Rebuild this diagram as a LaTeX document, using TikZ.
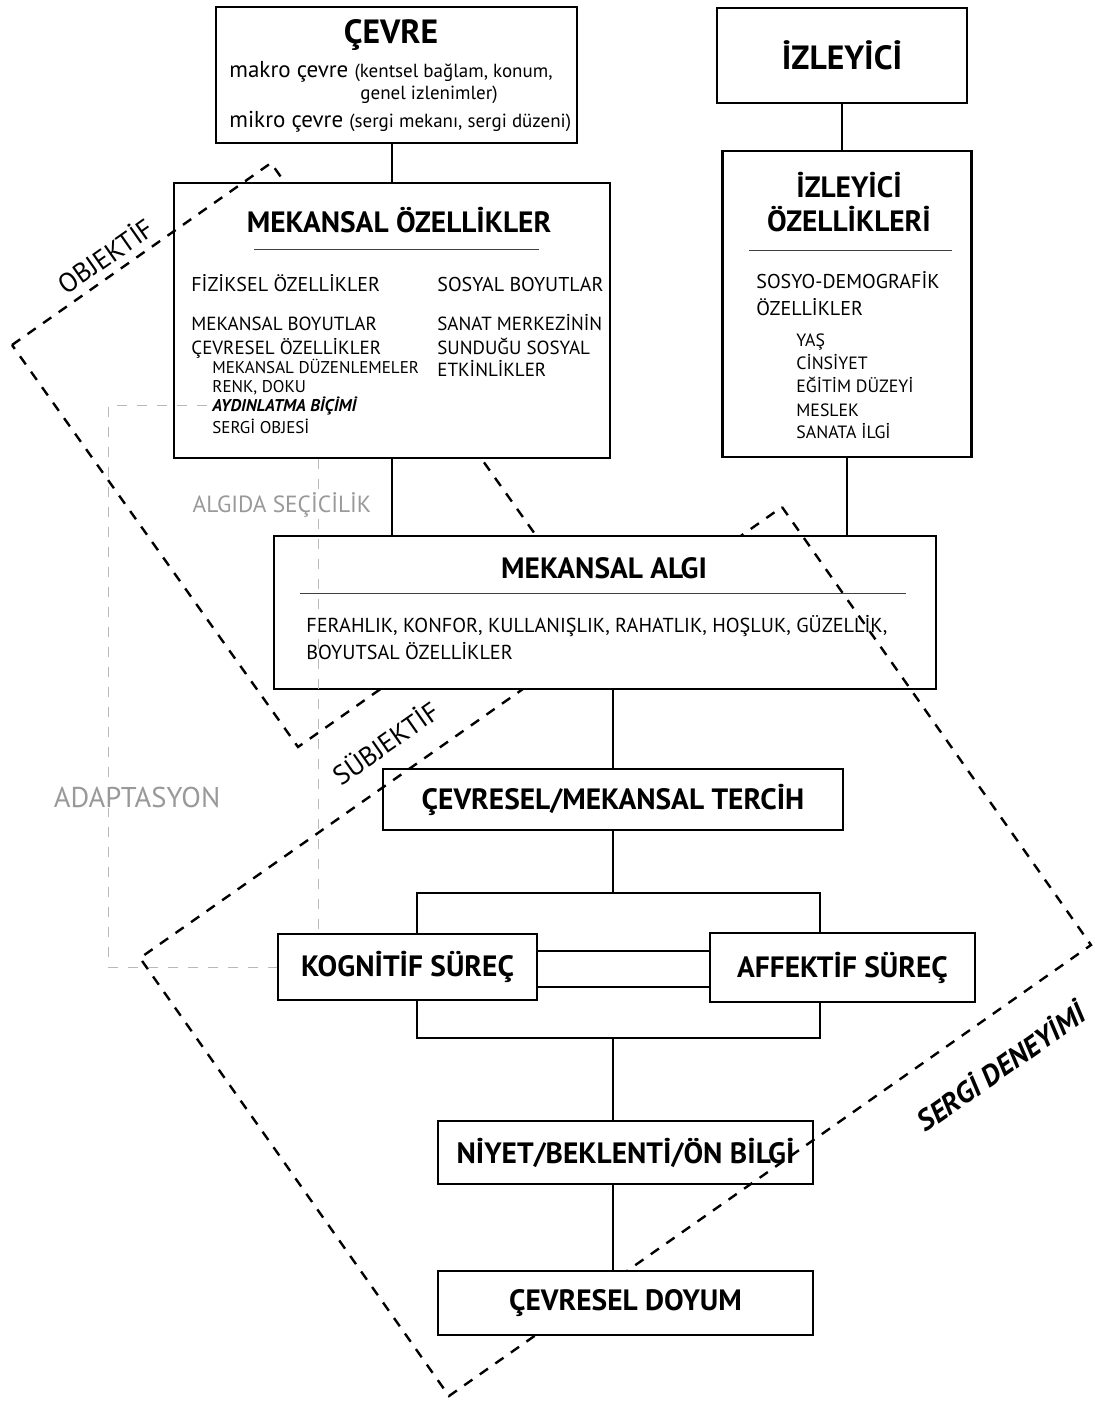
\documentclass[tikz,border=0pt]{standalone}
\usepackage{fontspec}
\setmainfont{PT Sans}
\usepackage{tikz}
\usetikzlibrary{positioning, calc}

\newcommand{\fsbig}{\fontsize{16.8}{19}\selectfont\bfseries}
\newcommand{\fsttl}{\fontsize{14.7}{17}\selectfont\bfseries}
\newcommand{\fsmid}{\fontsize{11.5}{13}\selectfont}
\newcommand{\fshead}{\fontsize{10}{12}\selectfont}
\newcommand{\fstxt}{\fontsize{9.5}{11}\selectfont}
\newcommand{\fssml}{\fontsize{8.5}{10}\selectfont}

\begin{document}
\begin{tikzpicture}[
  x=0.5pt, y=-0.5pt,
  sgbox/.style={draw=black, line width=1.1pt, fill=white, inner sep=0pt},
  sgproc/.style={sgbox, font=\fsttl},
  sgtxt/.style={inner sep=0pt, anchor=base west},
  sgctr/.style={inner sep=0pt, anchor=base},
  sglink/.style={draw=black, line width=0.6pt},
  sgrule/.style={draw=black!75, line width=0.5pt},
  sgdash/.style={draw=black, line width=1.2pt, dash pattern=on 5pt off 4.5pt},
  sggrey/.style={draw=black!28, line width=0.5pt, dash pattern=on 5pt off 5pt},
  sggrlbl/.style={text=black!40, fill=white, inner sep=0.5pt},
  sgzone/.style={inner sep=0pt, rotate=35, font=\fontsize{13.5}{15}\selectfont}
]
\useasboundingbox (0,0) rectangle (1094,1401);

% ---------------------------------------------- the two dashed zones
\coordinate (objL) at (12,345);
\coordinate (objT) at (271,163);
\coordinate (objB) at (298,747);
\coordinate (objR) at ($(objT)+(objB)-(objL)$);
\coordinate (srgT) at (782,507);
\coordinate (srgR) at (1091,945);
\coordinate (srgL) at (140,958);
\coordinate (srgB) at ($(srgL)+(srgR)-(srgT)$);

\draw[sgdash] (objL) -- (objT) -- (objR) -- (objB) -- cycle;
\draw[sgdash] (srgT) -- (srgR) -- (srgB) -- (srgL) -- cycle;

% ---------------------------------------------- the boxes
\node[sgbox, minimum width=180.5pt, minimum height=68pt] (cevre) at (396.5,75) {};
\node[sgbox, minimum width=125pt, minimum height=47.5pt, font=\fsbig] (izleyici) at (842,55.5) {İZLEYİCİ};
\node[sgbox, minimum width=218pt, minimum height=137.5pt] (mekozl) at (392,320.5) {};
\node[sgbox, minimum width=124.5pt, minimum height=153pt] (izlozl) at (847,304) {};
\node[sgbox, minimum width=331pt, minimum height=76.5pt] (malgi) at (605,612.5) {};
\node[sgproc, minimum width=230pt, minimum height=30.5pt] (tercih) at (613,799.5) {ÇEVRESEL/MEKANSAL TERCİH};
\node[sgbox, fill=none, minimum width=201.5pt, minimum height=72.5pt] (frame) at (618.5,965.5) {};
\node[sgproc, minimum width=129.5pt, minimum height=33pt] (kognitif) at (407.5,967) {KOGNİTİF SÜREÇ};
\node[sgproc, minimum width=132.5pt, minimum height=34.5pt] (affektif) at (842.5,967.5) {AFFEKTİF SÜREÇ};
\node[sgproc, minimum width=187.5pt, minimum height=31.5pt] (niyet) at (625.5,1152.5) {NİYET/BEKLENTİ/ÖN BİLGİ};
\node[sgproc, minimum width=187.5pt, minimum height=32pt, below=42.5pt of niyet] (doyum) {ÇEVRESEL DOYUM};

% ---------------------------------------------- texts of the boxes
\node[sgctr, font=\fsbig] (cevrettl) at (391,44) {ÇEVRE};
\node[sgtxt, font=\fsmid] (makro) at (229,78) {makro çevre {\fstxt(kentsel bağlam, konum,}};
\node[sgtxt, font=\fstxt] (genel) at (360,100) {genel izlenimler)};
\node[sgtxt, font=\fsmid] (mikro) at (229,128) {mikro çevre {\fstxt(sergi mekanı, sergi düzeni)}};

\node[sgctr, font=\fsttl] (mekttl) at (399,233) {MEKANSAL ÖZELLİKLER};
\draw[sgrule] (254,250) -- (539,250);
\node[sgtxt, font=\fshead] (fizik) at (191,292) {FİZİKSEL ÖZELLİKLER};
\node[sgtxt, font=\fstxt] (mboyut) at (191,330) {MEKANSAL BOYUTLAR};
\node[sgtxt, font=\fstxt] (cozl) at (191,354) {ÇEVRESEL ÖZELLİKLER};
\node[sgtxt, font=\fssml] (mduzen) at (212,373) {MEKANSAL DÜZENLEMELER};
\node[sgtxt, font=\fssml] (renk) at (212,393) {RENK, DOKU};
\node[sgtxt, font=\fssml\bfseries\itshape] (aydin) at (212,411) {AYDINLATMA BİÇİMİ};
\node[sgtxt, font=\fssml] (objesi) at (212,433) {SERGİ OBJESİ};
\node[sgtxt, font=\fshead] (sosyal) at (437,292) {SOSYAL BOYUTLAR};
\node[sgtxt, font=\fstxt] (sanat) at (437,330) {SANAT MERKEZİNİN};
\node[sgtxt, font=\fstxt] (sundu) at (437,354) {SUNDUĞU SOSYAL};
\node[sgtxt, font=\fstxt] (etkin) at (437,376) {ETKİNLİKLER};

\node[sgctr, font=\fsttl] (izlttl) at (849,198) {İZLEYİCİ};
\node[sgctr, font=\fsttl] (izlttlb) at (849,232) {ÖZELLİKLERİ};
\draw[sgrule] (749,251) -- (952,251);
\node[sgtxt, font=\fshead] (sosyo) at (756,289) {SOSYO-DEMOGRAFİK};
\node[sgtxt, font=\fshead] (sosyob) at (756,315) {ÖZELLİKLER};
\node[sgtxt, font=\fontsize{8.9}{10}\selectfont] (yas) at (796,347) {YAŞ};
\node[sgtxt, font=\fontsize{8.9}{10}\selectfont] (cins) at (796,370) {CİNSİYET};
\node[sgtxt, font=\fontsize{8.9}{10}\selectfont] (egit) at (796,393) {EĞİTİM DÜZEYİ};
\node[sgtxt, font=\fontsize{8.9}{10}\selectfont] (meslek) at (796,416) {MESLEK};
\node[sgtxt, font=\fontsize{8.9}{10}\selectfont] (ilgi) at (796,438) {SANATA İLGİ};

\node[sgctr, font=\fsttl] (algttl) at (604,578) {MEKANSAL ALGI};
\draw[sgrule] (300,593) -- (906,593);
\node[sgtxt, font=\fontsize{10.1}{12}\selectfont] (ferah) at (306,632) {FERAHLIK, KONFOR, KULLANIŞLIK, RAHATLIK, HOŞLUK, GÜZELLİK,};
\node[sgtxt, font=\fontsize{10.1}{12}\selectfont] (boyuts) at (306,659) {BOYUTSAL ÖZELLİKLER};

% ---------------------------------------------- connectors
\draw[sglink] (mekozl.north) -- (mekozl.north |- cevre.south);
\draw[sglink] (izleyici.south) -- (izleyici.south |- izlozl.north);
\draw[sglink] (mekozl.south) -- (mekozl.south |- malgi.north);
\draw[sglink] (izlozl.south) -- (izlozl.south |- malgi.north);
\draw[sglink] (malgi.south -| tercih.north) -- (tercih.north);
\draw[sglink] (tercih.south) -- (tercih.south |- frame.north);
\draw[sglink] (frame.south -| tercih.south) -- (niyet.north -| tercih.south);
\draw[sglink] (niyet.south -| tercih.south) -- (doyum.north -| tercih.south);
\draw[sglink] ([yshift=8pt]kognitif.east) -- ([yshift=8pt]kognitif.east -| affektif.west);
\draw[sglink] ([yshift=-10pt]kognitif.east) -- ([yshift=-10pt]kognitif.east -| affektif.west);

% ---------------------------------------------- grey feedback lines
\coordinate (adapx) at (108,0);
\coordinate (selx) at (318,0);
\draw[sggrey] ([xshift=-2.5pt]aydin.west) -| (adapx |- kognitif.west) -- (kognitif.west);
\draw[sggrey] (selx |- mekozl.south) -- (selx |- kognitif.north);
\node[sggrlbl, font=\fontsize{11.7}{14}\selectfont] (algsec) at (282,505) {ALGIDA SEÇİCİLİK};
\node[sggrlbl, font=\fontsize{14.3}{16}\selectfont] (adapt) at (137,797) {ADAPTASYON};

% ---------------------------------------------- dashes running over the boxes
\begin{scope}
  \clip (mekozl.north west) rectangle (260,458);
  \draw[sgdash] (objL) -- (objT) -- (objR) -- (objB) -- cycle;
\end{scope}
\begin{scope}
  \clip (tercih.north west) rectangle (tercih.south east)
        (niyet.north west) rectangle (niyet.south east)
        (780,536) rectangle (malgi.south east);
  \draw[sgdash] (srgT) -- (srgR) -- (srgB) -- (srgL) -- cycle;
\end{scope}

% ---------------------------------------------- zone labels
\node[sgzone] (objlbl) at (105,255) {OBJEKTİF};
\node[sgzone] (sublbl) at (385,742) {SÜBJEKTİF};
\node[sgzone, font=\fontsize{14.5}{16}\selectfont\bfseries\itshape] (srglbl) at (1000,1066) {SERGİ DENEYİMİ};

\end{tikzpicture}
\end{document}
